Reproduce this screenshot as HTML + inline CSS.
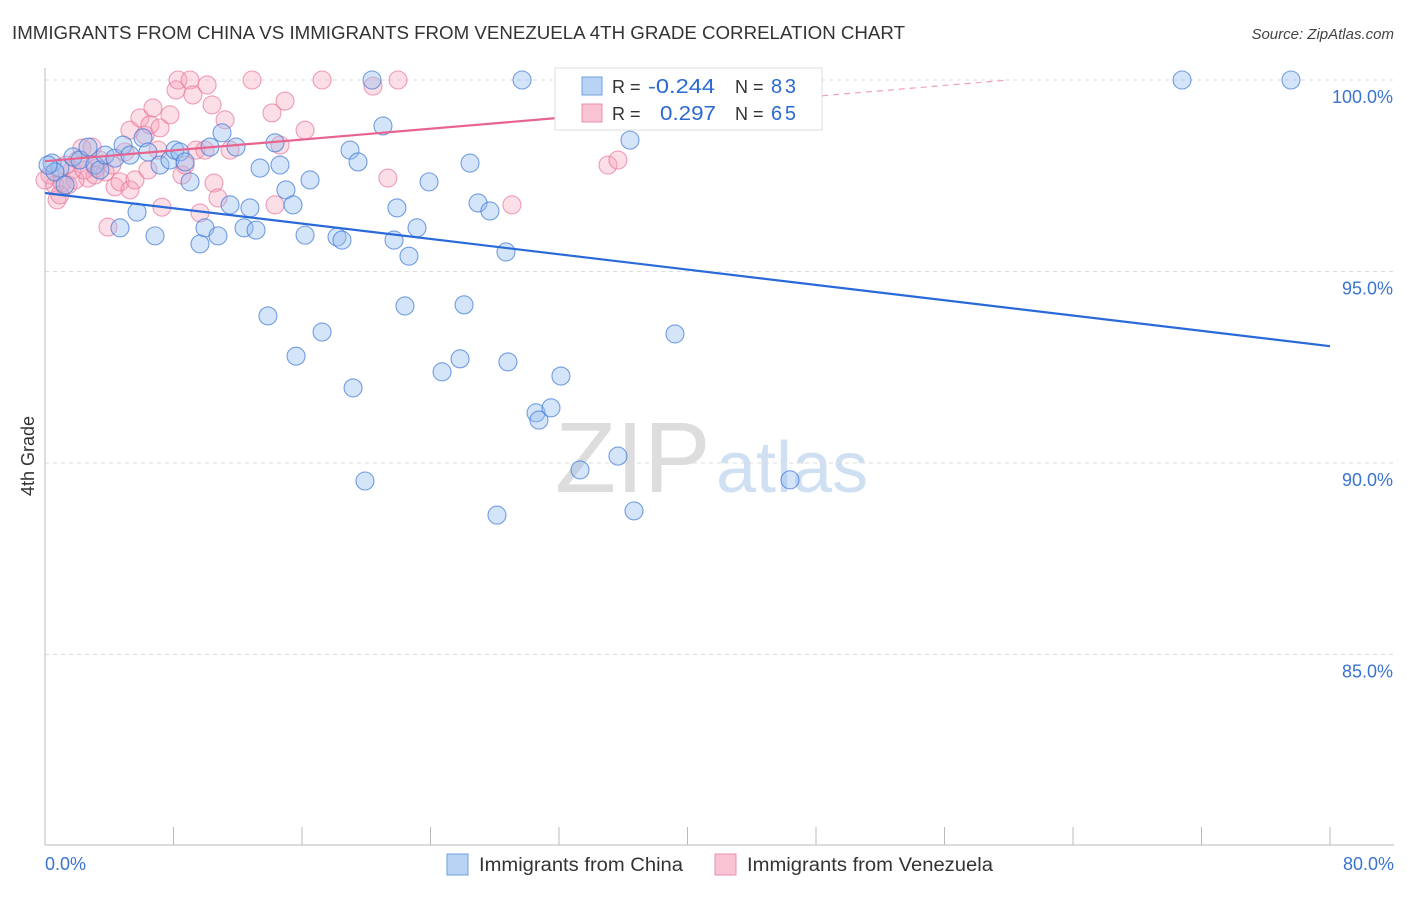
<!DOCTYPE html>
<html><head><meta charset="utf-8"><style>
body{margin:0;background:#fff;font-family:"Liberation Sans",sans-serif;}
svg text{font-family:"Liberation Sans",sans-serif;}
</style></head><body>
<svg id="c" width="1406" height="892">
<text x="12" y="39" font-size="18" fill="#333" textLength="893" lengthAdjust="spacingAndGlyphs">IMMIGRANTS FROM CHINA VS IMMIGRANTS FROM VENEZUELA 4TH GRADE CORRELATION CHART</text>
<text x="1394" y="39" font-size="15" fill="#444" text-anchor="end" font-style="italic">Source: ZipAtlas.com</text>
<text x="34" y="456" font-size="18" fill="#333" transform="rotate(-90 34 456)" text-anchor="middle">4th Grade</text>
<text x="555" y="492" font-size="100" fill="#ddd" font-family="Liberation Serif">ZIP</text>
<text x="716" y="492" font-size="72" fill="#cfe0f3">atlas</text>
<g id="grid"></g><g id="axes"></g><g id="pts"></g><g id="lines"></g>
<g>
<rect x="555" y="68" width="267" height="62" fill="#fff" stroke="#ddd"/>
<rect x="582" y="77" width="20" height="18" fill="#b8d3f3" stroke="#6ea0e0"/>
<rect x="582" y="104" width="20" height="18" fill="#f9c3d3" stroke="#ec8fab"/>
<text x="612" y="93" font-size="18" fill="#333">R = </text><text x="648" y="93" font-size="20" fill="#2a6ad0" textLength="67" lengthAdjust="spacingAndGlyphs">-0.244</text>
<text x="735" y="93" font-size="18" fill="#333">N = </text><text x="771" y="93" font-size="20" fill="#2a6ad0" textLength="25">83</text>
<text x="612" y="120" font-size="18" fill="#333">R = </text><text x="660" y="120" font-size="20" fill="#2a6ad0" textLength="56" lengthAdjust="spacingAndGlyphs">0.297</text>
<text x="735" y="120" font-size="18" fill="#333">N = </text><text x="771" y="120" font-size="20" fill="#2a6ad0" textLength="25">65</text>
</g>
<g><rect x="447" y="854" width="21" height="21" fill="#b8d3f3" stroke="#6ea0e0"/><text x="479" y="871" font-size="19" fill="#333" textLength="204" lengthAdjust="spacingAndGlyphs">Immigrants from China</text></g>
<g><rect x="715" y="854" width="21" height="21" fill="#f9c3d3" stroke="#ec8fab"/><text x="747" y="871" font-size="19" fill="#333" textLength="246" lengthAdjust="spacingAndGlyphs">Immigrants from Venezuela</text></g>
<text x="45" y="870" font-size="18" fill="#3a74d0">0.0%</text>
<text x="1394" y="870" font-size="18" fill="#3a74d0" text-anchor="end">80.0%</text>
</svg>
<script>
const yTicks=[100,95,90,85];
const yTickLabels=["100.0%","95.0%","90.0%","85.0%"];
const xTicks=[0,8,16,24,32,40,48,56,64,72,80];
const chinaPx=[[52,163],[60,168],[55,172],[48,165],[65,185],[73,157],[80,160],[88,147],[95,165],[100,170],[105,155],[115,158],[123,145],[130,155],[120,228],[137,212],[143,138],[148,152],[155,236],[160,165],[170,160],[175,150],[180,152],[185,162],[190,182],[200,244],[205,228],[210,147],[218,236],[222,133],[230,205],[236,147],[244,228],[250,208],[256,230],[260,168],[268,316],[275,143],[280,165],[286,190],[293,205],[296,356],[305,235],[310,180],[322,332],[337,237],[342,240],[350,150],[353,388],[358,162],[365,481],[372,80],[383,126],[394,240],[397,208],[405,306],[409,256],[417,228],[429,182],[442,372],[460,359],[464,305],[470,163],[478,203],[490,211],[497,515],[506,252],[508,362],[522,80],[536,413],[539,420],[551,408],[561,376],[573,80],[580,470],[601,88],[618,456],[630,140],[634,511],[675,334],[702,80],[790,480],[1182,80],[1291,80]];
const venPx=[[50,175],[55,185],[57,200],[62,183],[68,185],[72,170],[78,160],[82,148],[88,178],[92,147],[96,168],[100,160],[105,172],[108,227],[112,165],[115,187],[120,182],[125,152],[130,190],[130,130],[135,180],[140,118],[145,135],[148,170],[150,125],[153,108],[158,150],[160,128],[162,207],[170,115],[176,90],[178,80],[182,175],[185,165],[190,80],[193,95],[196,150],[200,213],[205,150],[207,85],[212,105],[214,183],[218,198],[225,120],[230,150],[252,80],[272,113],[275,205],[280,145],[285,101],[305,130],[322,80],[373,86],[388,178],[398,80],[512,205],[608,165],[618,160],[60,195],[75,180],[95,175],[45,180],[66,165],[84,170]];
const chinaX=chinaPx.map(p=>+((p[0]-45)/1285*80).toFixed(2));
const chinaY=chinaPx.map(p=>+(100-(p[1]-80)/191.5*5).toFixed(2));
const venX=venPx.map(p=>+((p[0]-45)/1285*80).toFixed(2));
const venY=venPx.map(p=>+(100-(p[1]-80)/191.5*5).toFixed(2));
const chinaTrend=[97.05,93.05];
const venTrend=[97.88,100];
const venTrendEndX=60;
const sx=v=>45+v/80*1285, sy=v=>80+(100-v)/5*191.5;
const NS="http://www.w3.org/2000/svg";
function mk(t,a,p){const e=document.createElementNS(NS,t);for(const k in a)e.setAttribute(k,a[k]);p.appendChild(e);return e;}
const g=document.getElementById('grid'),ax=document.getElementById('axes'),pts=document.getElementById('pts'),ln=document.getElementById('lines');
yTicks.forEach((t,i)=>{
 const l=mk('line',{x1:45,x2:1394,y1:sy(t),y2:sy(t),stroke:'#ddd','stroke-dasharray':'4,4'},g);
 
 
 const tx=mk('text',{x:1393,y:sy(t)+23,'font-size':18,fill:'#3a74d0','text-anchor':'end'},g);
 tx.textContent=yTickLabels[i];
 
 
});
const ya=mk('line',{x1:45,x2:45,y1:68,y2:845,stroke:'#bbb'},ax);


const xa=mk('line',{x1:45,x2:1394,y1:845,y2:845,stroke:'#bbb'},ax);


xTicks.forEach(t=>{
 const l=mk('line',{x1:sx(t),x2:sx(t),y1:827,y2:845,stroke:'#bbb'},ax);
 
 
});
venX.forEach((x,i)=>{
 const c=mk('circle',{cx:sx(x),cy:sy(venY[i]),r:9,fill:'rgba(245,160,185,0.35)',stroke:'rgba(232,120,155,0.7)','stroke-width':1.1},pts);
 
 
});
chinaX.forEach((x,i)=>{
 const c=mk('circle',{cx:sx(x),cy:sy(chinaY[i]),r:9,fill:'rgba(150,190,240,0.4)',stroke:'rgba(60,120,215,0.7)','stroke-width':1.1},pts);
 
 
});
const bl=mk('line',{x1:sx(0),y1:sy(chinaTrend[0]),x2:sx(80),y2:sy(chinaTrend[1]),stroke:'#2a6ad8','stroke-width':2.2},ln);


const midX=32, vAt=x=>venTrend[0]+(venTrend[1]-venTrend[0])*x/venTrendEndX;
const pl=mk('line',{x1:sx(0),y1:sy(vAt(0)),x2:sx(midX),y2:sy(vAt(midX)),stroke:'#e8648f','stroke-width':2.2},ln);


const pd=mk('line',{x1:sx(midX),y1:sy(vAt(midX)),x2:sx(venTrendEndX),y2:sy(vAt(venTrendEndX)),stroke:'#f0a0b8','stroke-width':1.2,'stroke-dasharray':'6,5'},ln);


</script>
</body></html>
